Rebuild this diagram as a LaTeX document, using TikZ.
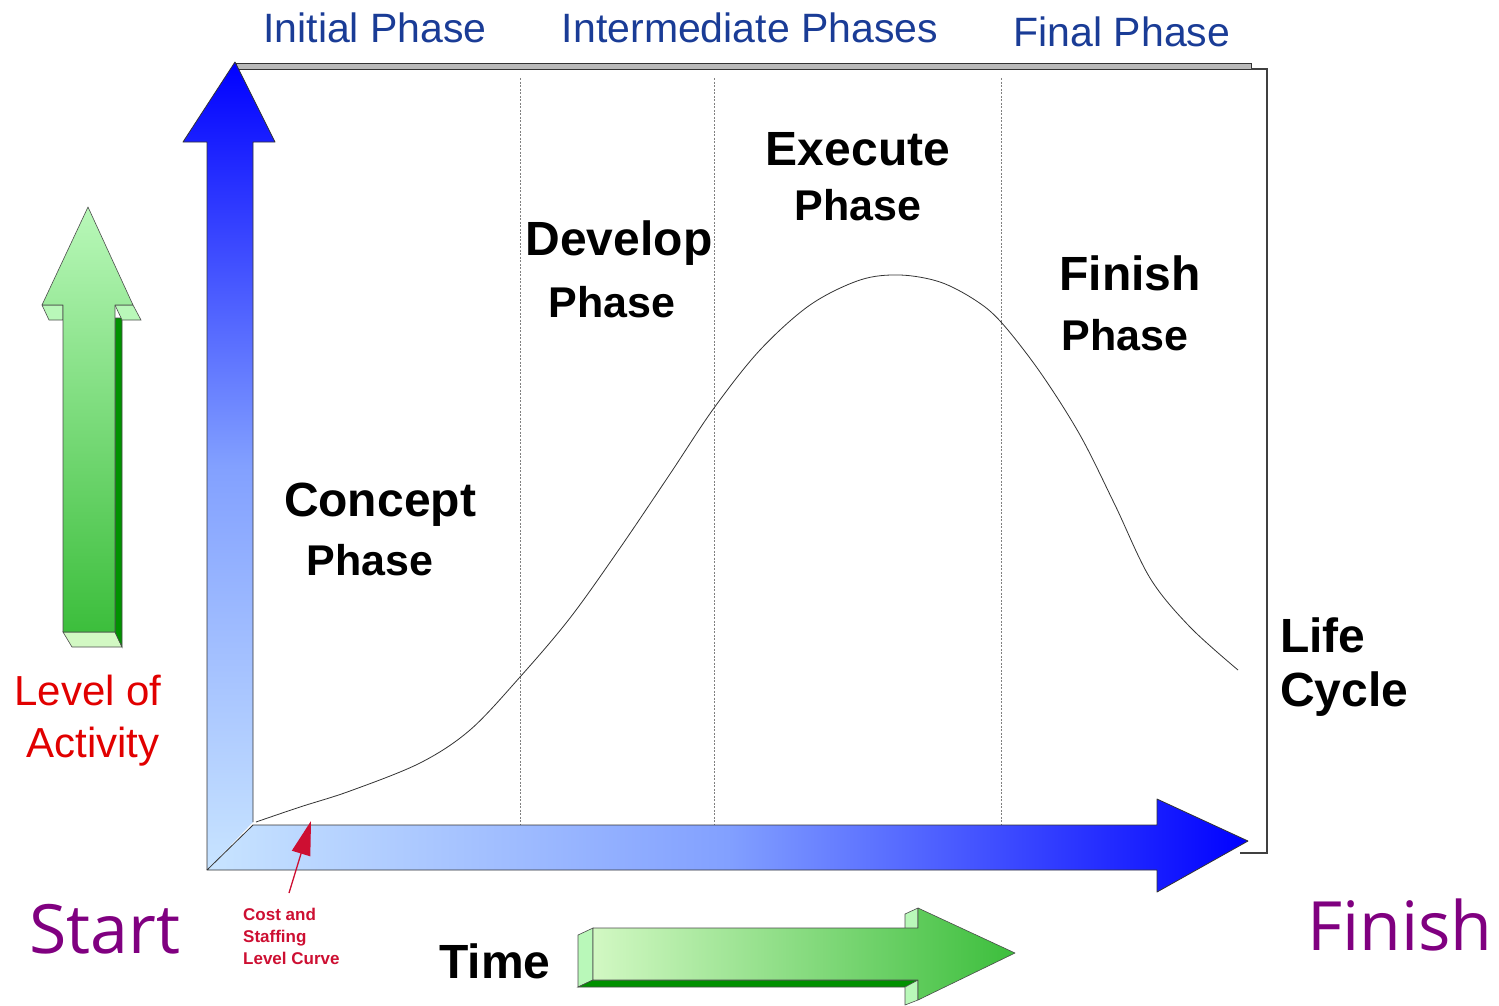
\documentclass[tikz,border=0pt]{standalone}
\usepackage{fontspec}
\setmainfont{Liberation Sans}
\newfontfamily\handfont{Open Sans}
\usetikzlibrary{arrows.meta}
\definecolor{titleblue}{RGB}{26,60,150}
\definecolor{lvlred}{RGB}{225,0,0}
\definecolor{costred}{RGB}{205,15,50}
\definecolor{purp}{RGB}{128,0,128}
\definecolor{lightblue}{RGB}{200,228,255}
\definecolor{midblue}{RGB}{130,160,255}
\definecolor{lgreen}{RGB}{185,248,185}
\definecolor{dgreen}{RGB}{0,145,0}
\definecolor{fgreen}{RGB}{60,190,60}
\definecolor{pgreen}{RGB}{210,248,195}
\tikzset{
  phasetxt/.style={font=\fontsize{41}{45}\selectfont, text=titleblue, anchor=base, inner sep=0pt},
  bigtxt/.style={font=\bfseries\fontsize{48}{52}\selectfont, anchor=base, inner sep=0pt},
  phtxt/.style={font=\bfseries\fontsize{43}{47}\selectfont, anchor=base, inner sep=0pt},
  lvltxt/.style={font=\fontsize{42}{46}\selectfont, text=lvlred, anchor=base, inner sep=0pt},
  handtxt/.style={font=\handfont\fontsize{68}{72}\selectfont, text=purp, anchor=base, inner sep=0pt},
  costtxt/.style={font=\bfseries\fontsize{17}{22}\selectfont, text=costred, anchor=base west, inner sep=0pt},
  divider/.style={gray, dash pattern=on 2pt off 1.5pt, line width=1pt},
  edge3d/.style={draw=black!80, line width=0.8pt, line join=round},
}
\begin{document}
\begin{tikzpicture}[x=1pt,y=-1pt]
\useasboundingbox (0,0) rectangle (1499,1005);
% frame box
\fill[gray!55, draw=black!80, line width=0.8pt] (236,63) rectangle (1251,69);
\draw[black!75, line width=1.2pt] (1251,69) -- (1267,69) -- (1267,853) -- (1240,853);
% dividers
\coordinate (d1t) at (520,78); \coordinate (d1b) at (520,825);
\coordinate (d2t) at (714,78); \coordinate (d2b) at (714,825);
\coordinate (d3t) at (1001,78); \coordinate (d3b) at (1001,825);
\draw[divider] (d1t) -- (d1b);
\draw[divider] (d2t) -- (d2b);
\draw[divider] (d3t) -- (d3b);
% vertical blue axis arrow
\shade[top color=blue, bottom color=lightblue, middle color=midblue] (207,870) -- (207,142) -- (183,142) -- (235,62) -- (275,142) -- (253,142) -- (253,822) -- cycle;
\draw[edge3d] (207,870) -- (207,142) -- (183,142) -- (235,62) -- (275,142) -- (253,142) -- (253,822);
% horizontal blue axis arrow
\shade[left color=lightblue, right color=blue, middle color=midblue] (207,870) -- (253,825) -- (1157,825) -- (1157,799) -- (1248,841) -- (1157,892) -- (1157,870) -- cycle;
\draw[edge3d] (207,870) -- (253,825) -- (1157,825) -- (1157,799) -- (1248,841) -- (1157,892) -- (1157,870) -- cycle;
% life cycle curve
\draw[black!80, line width=0.8pt] plot[smooth, tension=0.55] coordinates {(256,822) (300,807) (350,791) (420,763) (470,730) (520,677) (570,618) (620,548) (670,474) (714,408) (760,350) (810,305) (860,280) (900,275) (940,282) (975,300) (1001,322) (1040,372) (1080,435) (1115,505) (1150,578) (1190,627) (1238,670)};
% green up arrow
\fill[pgreen, draw=black!70, line width=0.6pt] (63,632) -- (115,632) -- (122,647) -- (72,647) -- cycle;
\fill[dgreen, draw=black!70, line width=0.6pt] (115,318) -- (122,318) -- (122,647) -- (115,632) -- cycle;
\fill[lgreen, draw=black!70, line width=0.6pt] (42,305) -- (63,305) -- (63,320) -- (49,320) -- cycle;
\fill[lgreen, draw=black!70, line width=0.6pt] (115,305) -- (133,305) -- (141,320) -- (122,320) -- cycle;
\shade[top color=lgreen, bottom color=fgreen] (88,207) -- (42,305) -- (63,305) -- (63,632) -- (115,632) -- (115,305) -- (133,305) -- cycle;
\draw[black!70, line width=0.6pt, line join=round] (88,207) -- (42,305) -- (63,305) -- (63,632) -- (115,632) -- (115,305) -- (133,305) -- cycle;
% green right arrow
\fill[lgreen, draw=black!70, line width=0.6pt] (578,935) -- (593,928) -- (593,980) -- (578,987) -- cycle;
\fill[dgreen, draw=black!70, line width=0.6pt] (578,987) -- (593,980) -- (918,980) -- (918,987) -- cycle;
\fill[lgreen, draw=black!70, line width=0.6pt] (905,914) -- (918,908) -- (918,928) -- (905,934) -- cycle;
\fill[lgreen, draw=black!70, line width=0.6pt] (905,987) -- (918,980) -- (918,1000) -- (905,1005) -- cycle;
\shade[left color=pgreen, right color=fgreen] (593,928) -- (918,928) -- (918,908) -- (1015,953) -- (918,1000) -- (918,980) -- (593,980) -- cycle;
\draw[black!70, line width=0.6pt, line join=round] (593,928) -- (918,928) -- (918,908) -- (1015,953) -- (918,1000) -- (918,980) -- (593,980) -- cycle;
% header texts
\node[phasetxt] (ini) at (375,42) {Initial Phase};
\node[phasetxt] (intm) at (750,42) {Intermediate Phases};
\node[phasetxt] (fin) at (1122,46) {Final Phase};
% phase labels
\node[bigtxt] (exe) at (858,165) {Execute};
\node[phtxt] (exep) at (858,220) {Phase};
\node[bigtxt] (dev) at (619,255) {Develop};
\node[phtxt] (devp) at (612,317) {Phase};
\node[bigtxt] (fnsh) at (1130,290) {Finish};
\node[phtxt] (fnshp) at (1125,350) {Phase};
\node[bigtxt] (con) at (380,516) {Concept};
\node[phtxt] (conp) at (370,575) {Phase};
\node[bigtxt, anchor=base west] (life) at (1280,652) {Life};
\node[bigtxt, anchor=base west] (cyc) at (1280,706) {Cycle};
% side texts
\node[lvltxt] (lvl) at (88,705) {Level of};
\node[lvltxt] (act) at (93,757) {Activity};
\node[handtxt] (start) at (105,953) {Start};
\node[handtxt] (finish) at (1400,950) {Finish};
\node[bigtxt] (time) at (495,978) {Time};
% cost label and pointer
\node[costtxt] (c1) at (243,920) {Cost and};
\node[costtxt] (c2) at (243,942) {Staffing};
\node[costtxt] (c3) at (243,964) {Level Curve};
\coordinate (ctail) at (289,893);
\coordinate (chead) at (311,821);
\draw[costred, line width=1.3pt, -{Triangle[length=34pt, width=19pt]}] (ctail) -- (chead);
\end{tikzpicture}
\end{document}
